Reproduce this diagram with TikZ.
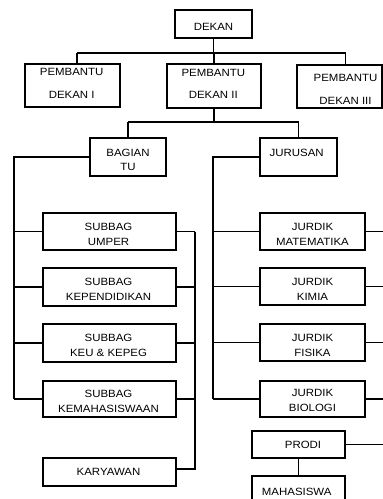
\documentclass[tikz,border=0pt]{standalone}
\usepackage{fontspec}
\setmainfont{Liberation Sans}[FakeStretch=1.09]
\begin{document}
\begin{tikzpicture}[x=1pt,y=-1pt,line width=1.1pt,
  box/.style={draw,line width=1.1pt,inner sep=0pt},
  lbl/.style={align=center,inner sep=0pt,font=\fontsize{10.5}{15}\selectfont},
  lblw/.style={align=center,inner sep=0pt,font=\fontsize{10.5}{22.5}\selectfont}]
\useasboundingbox (0,0) rectangle (383,499);
\fill[white] (0,0) rectangle (383,499);
\clip (0,0) rectangle (383,499);

% boxes
\node[box,minimum width=77pt,minimum height=28pt] (dekan) at (213.5,24) {};
\node[box,minimum width=95pt,minimum height=43pt] (pd1) at (72.5,85.5) {};
\node[box,minimum width=94pt,minimum height=44pt] (pd2) at (214,86) {};
\node[box,minimum width=85pt,minimum height=43pt] (pd3) at (339.5,86.5) {};
\node[box,minimum width=76pt,minimum height=38pt] (bt) at (128,157) {};
\node[box,minimum width=77pt,minimum height=38pt] (jur) at (298.5,157) {};
\node[box,minimum width=133pt,minimum height=37pt] (s1) at (109.5,231.5) {};
\node[box,minimum width=133pt,minimum height=38pt] (s2) at (109.5,287) {};
\node[box,minimum width=133pt,minimum height=38pt] (s3) at (109.5,343) {};
\node[box,minimum width=133pt,minimum height=36pt] (s4) at (109.5,399) {};
\node[box,minimum width=133pt,minimum height=28pt] (kary) at (109.5,472) {};
\node[box,minimum width=105pt,minimum height=37pt] (j1) at (312.5,231.5) {};
\node[box,minimum width=105pt,minimum height=37pt] (j2) at (312.5,286.5) {};
\node[box,minimum width=105pt,minimum height=37pt] (j3) at (312.5,342.5) {};
\node[box,minimum width=105pt,minimum height=36pt] (j4) at (312.5,399) {};
\node[box,minimum width=93pt,minimum height=27pt] (prodi) at (298.5,444.5) {};
\node[box,minimum width=93pt,minimum height=28pt] (maha) at (298.5,490) {};

% labels
\node[lbl] (t-dekan) at (213.5,26.5) {DEKAN};
\node[lblw] (t-pd1) at (71.7,83.5) {PEMBANTU\\DEKAN I};
\node[lblw] (t-pd2) at (213.3,84) {PEMBANTU\\DEKAN II};
\node[lblw] (t-pd3) at (345.5,89.5) {PEMBANTU\\DEKAN III};
\node[lbl,font=\fontsize{10.5}{14}\selectfont] (t-bt) at (128,160) {BAGIAN\\TU};
\node[lbl] (t-jur) at (296.7,152.5) {JURUSAN};
\node[lbl] (t-s1) at (108.5,234.5) {SUBBAG\\UMPER};
\node[lbl] (t-s2) at (108.5,289) {SUBBAG\\KEPENDIDIKAN};
\node[lbl] (t-s3) at (108.5,345) {SUBBAG\\KEU \& KEPEG};
\node[lbl] (t-s4) at (108.5,401) {SUBBAG\\KEMAHASISWAAN};
\node[lbl] (t-kary) at (108.5,471.7) {KARYAWAN};
\node[lbl] (t-j1) at (312.5,234) {JURDIK\\MATEMATIKA};
\node[lbl] (t-j2) at (312.5,289) {JURDIK\\KIMIA};
\node[lbl] (t-j3) at (312.5,345.8) {JURDIK\\FISIKA};
\node[lbl] (t-j4) at (312.5,400.8) {JURDIK\\BIOLOGI};
\node[lbl] (t-prodi) at (303,444.5) {PRODI};
\node[lbl] (t-maha) at (296.7,491.7) {MAHASISWA};

% level 1
\coordinate (hL) at (77,53);
\coordinate (hR) at (345.5,53);
\draw (hL) -- (hR);
\draw (dekan.south) -- (dekan.south |- hL);
\draw (hL) -- (hL |- pd1.north);
\draw (pd2.north) -- (pd2.north |- hL);
\draw (hR) -- (hR |- pd3.north);

% level 2
\coordinate (mL) at (128,122);
\coordinate (mR) at (298.5,122);
\draw (mL) -- (mR);
\draw (pd2.south) -- (pd2.south |- mL);
\draw (mL) -- (bt.north);
\draw (mR) -- (jur.north);

% left bus (Bagian TU)
\coordinate (lb) at (14,157);
\draw (bt.west) -- (lb) -- (lb |- s4.west);
\foreach \n in {s1,s2,s3,s4} \draw (lb |- \n.west) -- (\n.west);

% right bus (Karyawan)
\coordinate (rb) at (195,231.5);
\coordinate (ky) at (195,469);
\draw (rb) -- (ky) -- (ky -| kary.east);
\foreach \n in {s1,s2,s3,s4} \draw (\n.east) -- (rb |- \n.east);

% jurusan bus
\coordinate (jb) at (213,157);
\draw (jur.west) -- (jb) -- (jb |- j4.west);
\foreach \n in {j1,j2,j3,j4} \draw (jb |- \n.west) -- (\n.west);

% right edge stubs
\coordinate (edge) at (384,0);
\foreach \n in {j1,j2,j3,j4,prodi} \draw (\n.east) -- (edge |- \n.east);

% prodi - mahasiswa
\draw (prodi.south) -- (maha.north);
\end{tikzpicture}
\end{document}
